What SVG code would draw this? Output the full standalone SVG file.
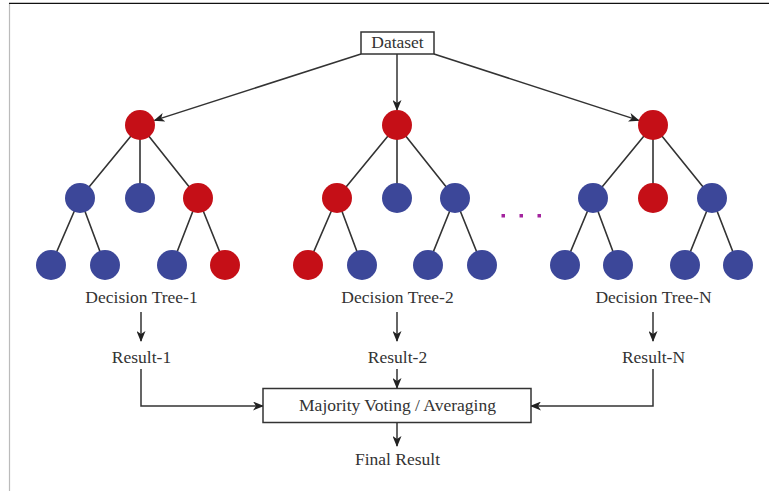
<svg xmlns="http://www.w3.org/2000/svg" width="769" height="491" viewBox="0 0 769 491">
<defs>
<marker id="ah" markerWidth="11" markerHeight="9" refX="10" refY="4.5" orient="auto" markerUnits="userSpaceOnUse">
<path d="M0,0 L11,4.5 L0,9 L3,4.5 z" fill="#222"/>
</marker>
<style>
.e{stroke:#333;stroke-width:1.6;fill:none}
.c{stroke:#333;stroke-width:1.5;fill:none}
.r{fill:#c50f17}
.b{fill:#3c4799}
.t{font-family:"Liberation Serif","Times New Roman",serif;font-size:17.5px;fill:#333;text-anchor:middle}
.box{fill:#fff;stroke:#333;stroke-width:1.5}
</style>
</defs>
<rect width="769" height="491" fill="#fff"/>
<line x1="9.5" y1="3" x2="9.5" y2="491" stroke="#bbb" stroke-width="1.2"/>
<line x1="9" y1="3.3" x2="769" y2="3.3" stroke="#111" stroke-width="1.2"/>

<g id="connectors">
<line class="c" x1="361" y1="54" x2="154.5" y2="120.4" marker-end="url(#ah)"/>
<line class="c" x1="397" y1="54" x2="397" y2="110" marker-end="url(#ah)"/>
<line class="c" x1="434" y1="54" x2="638.7" y2="120.4" marker-end="url(#ah)"/>
<line class="c" x1="141" y1="312" x2="141" y2="341" marker-end="url(#ah)"/>
<line class="c" x1="397" y1="312" x2="397" y2="341" marker-end="url(#ah)"/>
<line class="c" x1="653" y1="312" x2="653" y2="341" marker-end="url(#ah)"/>
<polyline class="c" points="141,369 141,406 263,406" marker-end="url(#ah)"/>
<line class="c" x1="397" y1="369" x2="397" y2="388" marker-end="url(#ah)"/>
<polyline class="c" points="653,369 653,406 531,406" marker-end="url(#ah)"/>
<line class="c" x1="397" y1="422" x2="397" y2="446" marker-end="url(#ah)"/>
</g>

<g id="tree1">
<path class="e" d="M140,125 L80,198 M140,125 L140,198 M140,125 L198,198 M80,198 L51,265 M80,198 L105,265 M198,198 L172,265 M198,198 L225,265"/>
<circle class="r" cx="140" cy="125" r="15"/>
<circle class="b" cx="80" cy="198" r="15"/>
<circle class="b" cx="140" cy="198" r="15"/>
<circle class="r" cx="198" cy="198" r="15"/>
<circle class="b" cx="51" cy="265" r="15"/>
<circle class="b" cx="105" cy="265" r="15"/>
<circle class="b" cx="172" cy="265" r="15"/>
<circle class="r" cx="225" cy="265" r="15"/>
</g>

<g id="tree2">
<path class="e" d="M397,125 L337,198 M397,125 L397,198 M397,125 L455,198 M337,198 L308,265 M337,198 L362,265 M455,198 L428,265 M455,198 L482,265"/>
<circle class="r" cx="397" cy="125" r="15"/>
<circle class="r" cx="337" cy="198" r="15"/>
<circle class="b" cx="397" cy="198" r="15"/>
<circle class="b" cx="455" cy="198" r="15"/>
<circle class="r" cx="308" cy="265" r="15"/>
<circle class="b" cx="362" cy="265" r="15"/>
<circle class="b" cx="428" cy="265" r="15"/>
<circle class="b" cx="482" cy="265" r="15"/>
</g>

<g id="treeN">
<path class="e" d="M653,125 L593,198 M653,125 L653,198 M653,125 L712,198 M593,198 L565,265 M593,198 L618,265 M712,198 L685,265 M712,198 L738,265"/>
<circle class="r" cx="653" cy="125" r="15"/>
<circle class="b" cx="593" cy="198" r="15"/>
<circle class="r" cx="653" cy="198" r="15"/>
<circle class="b" cx="712" cy="198" r="15"/>
<circle class="b" cx="565" cy="265" r="15"/>
<circle class="b" cx="618" cy="265" r="15"/>
<circle class="b" cx="685" cy="265" r="15"/>
<circle class="b" cx="738" cy="265" r="15"/>
</g>

<g id="ellipsis" fill="#a3249e">
<rect x="501.5" y="214" width="3.5" height="3.5"/>
<rect x="519.5" y="214" width="3.5" height="3.5"/>
<rect x="537.5" y="214" width="3.5" height="3.5"/>
</g>

<g id="dataset">
<rect class="box" x="361" y="32" width="73" height="22"/>
<text class="t" x="397.5" y="48">Dataset</text>
</g>

<g id="label1"><text class="t" x="141.5" y="302.5">Decision Tree-1</text></g>
<g id="label2"><text class="t" x="397.5" y="302.5">Decision Tree-2</text></g>
<g id="labelN"><text class="t" x="653.5" y="302.5">Decision Tree-N</text></g>

<g id="result1"><text class="t" x="141.5" y="362.5">Result-1</text></g>
<g id="result2"><text class="t" x="397.5" y="362.5">Result-2</text></g>
<g id="resultN"><text class="t" x="653.5" y="362.5">Result-N</text></g>

<g id="majority">
<rect class="box" x="263" y="388.5" width="268" height="34"/>
<text class="t" x="397.5" y="410.5">Majority Voting / Averaging</text>
</g>

<g id="final"><text class="t" x="397.5" y="464.5">Final Result</text></g>
</svg>
